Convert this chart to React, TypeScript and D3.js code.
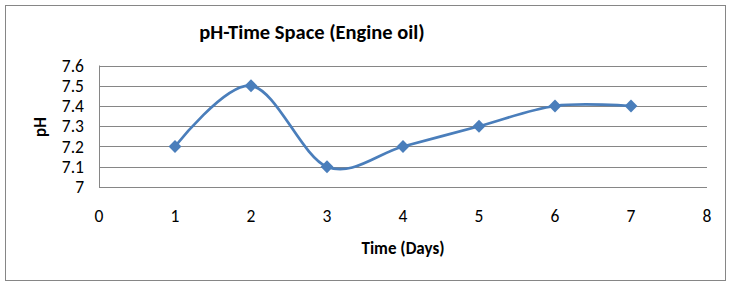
import * as d3 from "d3";

// data
const days = [1, 2, 3, 4, 5, 6, 7];
const phValues = [7.2, 7.5, 7.1, 7.2, 7.3, 7.4, 7.4];
const xTicks = [0, 1, 2, 3, 4, 5, 6, 7, 8];
const yTicks = [7, 7.1, 7.2, 7.3, 7.4, 7.5, 7.6];

const width = 735,
	height = 284;
const plot = { left: 99, right: 707, top: 65.5, bottom: 187 };
const font = "Calibri, Carlito, 'Liberation Sans', Arial, sans-serif";
const blue = "#4a7ebb";

export default function App() {
	const x = d3.scaleLinear().domain([0, 8]).range([plot.left, plot.right]);
	const y = d3.scaleLinear().domain([7, 7.6]).range([plot.bottom, plot.top]);

	const line = d3
		.line<number>()
		.x((d, i) => x(days[i]))
		.y((d) => y(d))
		.curve(d3.curveCardinal.tension(0));

	const diamond = d3.symbol().type(d3.symbolDiamond2).size(105);

	return (
		<svg width={width} height={height} style={{ position: "absolute", left: 0, top: 0 }}>
			<rect x={0} y={0} width={width} height={height} fill="#fff" />
			<rect x={5.5} y={5.5} width={720} height={275} fill="#fff" stroke="#868686" strokeWidth={1} />

			<text x={312} y={39} textAnchor="middle" fontFamily={font} fontSize={20.5} fontWeight="bold" fill="#000">
				pH-Time Space (Engine oil)
			</text>

			{/* gridlines */}
			{yTicks.map((t) => (
				<line key={t} x1={plot.left} x2={plot.right} y1={Math.round(y(t)) + 0.5} y2={Math.round(y(t)) + 0.5} stroke="#868686" />
			))}
			<line x1={plot.left + 0.5} x2={plot.left + 0.5} y1={plot.top} y2={plot.bottom} stroke="#868686" />

			{yTicks.map((t) => (
				<text key={t} x={84} y={y(t) + 6} textAnchor="end" fontFamily={font} fontSize={17.5} fill="#000">
					{d3.format("")(t)}
				</text>
			))}
			{xTicks.map((t) => (
				<text key={t} x={x(t)} y={222} textAnchor="middle" fontFamily={font} fontSize={17.5} fill="#000">
					{t}
				</text>
			))}

			<text x={403} y={254} textAnchor="middle" fontFamily={font} fontSize={17} fontWeight="bold" fill="#000">
				Time (Days)
			</text>
			<text transform="translate(46 127) rotate(-90)" textAnchor="middle" fontFamily={font} fontSize={17} fontWeight="bold" fill="#000">
				pH
			</text>

			<path d={line(phValues) || ""} fill="none" stroke={blue} strokeWidth={2.75} />
			{phValues.map((v, i) => (
				<path key={i} d={diamond() || ""} transform={`translate(${x(days[i])} ${y(v)})`} fill={blue} />
			))}
		</svg>
	);
}
